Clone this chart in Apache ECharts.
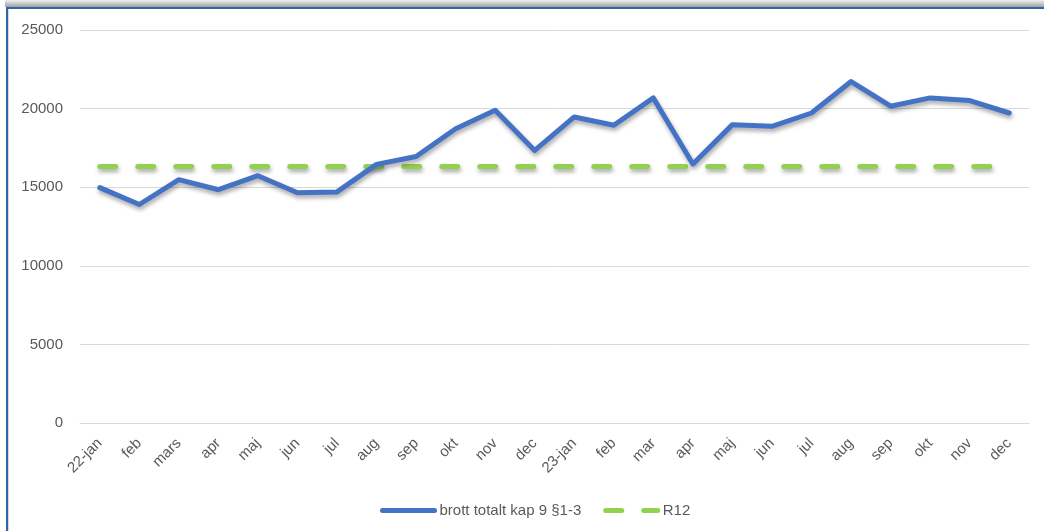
<!DOCTYPE html>
<html>
<head>
<meta charset="utf-8">
<script src="https://cdn.jsdelivr.net/npm/echarts@6/dist/echarts.min.js"></script>
<style>
html,body{margin:0;padding:0;background:#fff;}
#wrap{position:relative;width:1044px;height:531px;overflow:hidden;background:#fff;}
#shadowTop{position:absolute;left:5px;top:0;width:1039px;height:7px;background:linear-gradient(#f0f0f0,#a0a0a0);}
#frame{position:absolute;left:6px;top:7px;width:1040px;height:530px;border-top:2px solid #2E64A8;border-left:2px solid #2E64A8;box-sizing:border-box;}
#frameIn{position:absolute;left:8px;top:9px;width:1px;height:522px;background:#d8d8d8;}
#chart{position:absolute;left:0;top:0;width:1044px;height:531px;}
</style>
</head>
<body>
<div id="wrap">
  <div id="shadowTop"></div>
  <div id="frame"></div>
  <div id="frameIn"></div>
  <div id="chart"></div>
</div>
<script>
const categories = ['22-jan','feb','mars','apr','maj','jun','jul','aug','sep','okt','nov','dec',
                    '23-jan','feb','mar','apr','maj','jun','jul','aug','sep','okt','nov','dec'];
const brottTotalt = [14970, 13900, 15480, 14840, 15730, 14650, 14700, 16450, 16950, 18720, 19890, 17340,
                     19470, 18940, 20680, 16480, 18980, 18870, 19720, 21720, 20150, 20680, 20510, 19720];
const r12 = [16320, 16320, 16320, 16320, 16320, 16320, 16320, 16320, 16320, 16320, 16320, 16320,
             16320, 16320, 16320, 16320, 16320, 16320, 16320, 16320, 16320, 16320, 16320, 16320];
const seriesNames = ['brott totalt kap 9 §1-3', 'R12'];

const chart = echarts.init(document.getElementById('chart'), null, {renderer: 'canvas'});
const font = 'Liberation Sans';
chart.setOption({
  animation: false,
  textStyle: {fontFamily: font, color: '#595959'},
  grid: {left: 80, right: 15, top: 30, bottom: 108, containLabel: false},
  legend: {
    left: 375, top: 498,
    itemWidth: 52, itemHeight: 10, itemGap: 22,
    itemStyle: {opacity: 0},
    lineStyle: {width: 5, cap: 'round'},
    textStyle: {fontFamily: font, fontSize: 15, color: '#595959'},
    data: seriesNames
  },
  xAxis: {
    type: 'category',
    data: categories,
    boundaryGap: true,
    axisLine: {lineStyle: {color: '#d9d9d9', width: 1}},
    axisTick: {show: false},
    axisLabel: {rotate: 45, interval: 0, fontSize: 15, color: '#595959', fontFamily: font, margin: 18}
  },
  yAxis: {
    type: 'value',
    min: 0, max: 25000, interval: 5000,
    axisLine: {show: false},
    axisTick: {show: false},
    splitLine: {lineStyle: {color: '#d9d9d9', width: 1}},
    axisLabel: {fontSize: 15, color: '#595959', fontFamily: font, margin: 17,
      formatter: function (v) { return String(v); }}
  },
  series: [
    {
      name: seriesNames[0],
      type: 'line',
      data: brottTotalt,
      showSymbol: false,
      symbol: 'none',
      lineStyle: {color: '#4472C4', width: 5, cap: 'round', join: 'round',
        shadowColor: 'rgba(0,0,0,0.35)', shadowBlur: 4, shadowOffsetX: 1, shadowOffsetY: 3},
      itemStyle: {color: '#4472C4'},
      z: 3
    },
    {
      name: seriesNames[1],
      type: 'line',
      data: r12,
      showSymbol: false,
      symbol: 'none',
      lineStyle: {color: '#92D050', width: 5, type: [16, 22], cap: 'round',
        shadowColor: 'rgba(0,0,0,0.35)', shadowBlur: 4, shadowOffsetX: 1, shadowOffsetY: 3},
      itemStyle: {color: '#92D050'},
      z: 2
    }
  ]
});
</script>
</body>
</html>
